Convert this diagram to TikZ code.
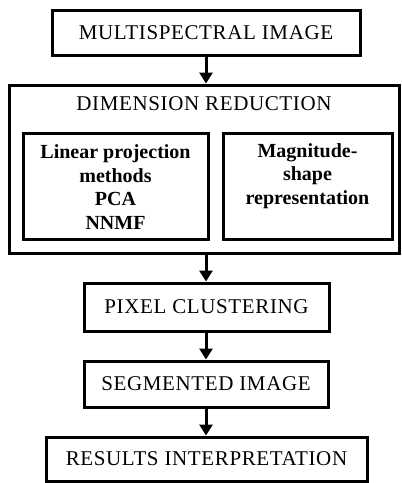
\documentclass[tikz,border=0pt]{standalone}
\usepackage{fontspec}
\setmainfont{Liberation Serif}
\newfontfamily\capsfont[LetterSpace=3]{Liberation Serif}
\usetikzlibrary{arrows.meta}
\begin{document}
\begin{tikzpicture}[x=1pt,y=-1pt,
  boxnode/.style={draw, line width=3pt, rectangle, inner sep=0pt, font=\capsfont\fontsize{21}{23}\selectfont},
  inbox/.style={draw, line width=3pt, rectangle, inner sep=0pt},
  txt/.style={inner sep=0pt, align=center, font=\fontsize{20}{23.5}\selectfont\bfseries},
  flow/.style={line width=3pt, -{Triangle[width=13pt,length=11pt]}}]
\useasboundingbox (0,0) rectangle (402,483);
\node[boxnode, minimum width=308pt, minimum height=45pt] (ms) at (206,32.5) {MULTISPECTRAL IMAGE};
\node[inbox, minimum width=390pt, minimum height=168pt] (dr) at (204,169) {};
\node[inner sep=0pt, font=\capsfont\fontsize{21}{23}\selectfont] (drt) at (204,104) {DIMENSION REDUCTION};
\node[inbox, minimum width=185pt, minimum height=106pt] (lin) at (115.5,186) {};
\node[txt] (lint) at (115.5,187) {Linear projection\\methods\\PCA\\NNMF};
\node[inbox, minimum width=169pt, minimum height=106pt] (mag) at (307.5,186) {};
\node[txt] (magt) at (307.5,176) {Magnitude-\\shape\\representation};
\node[boxnode, minimum width=245pt, minimum height=48pt] (pc) at (206.5,307) {PIXEL CLUSTERING};
\node[boxnode, minimum width=244pt, minimum height=46pt] (seg) at (206,384) {SEGMENTED IMAGE};
\node[boxnode, minimum width=321pt, minimum height=44pt] (res) at (206.5,459) {RESULTS INTERPRETATION};
\draw[flow] (ms.south) -- (ms.south |- dr.north);
\draw[flow] (dr.south -| ms.south) -- (ms.south |- pc.north);
\draw[flow] (ms.south |- pc.south) -- (ms.south |- seg.north);
\draw[flow] (ms.south |- seg.south) -- (ms.south |- res.north);
\end{tikzpicture}
\end{document}
